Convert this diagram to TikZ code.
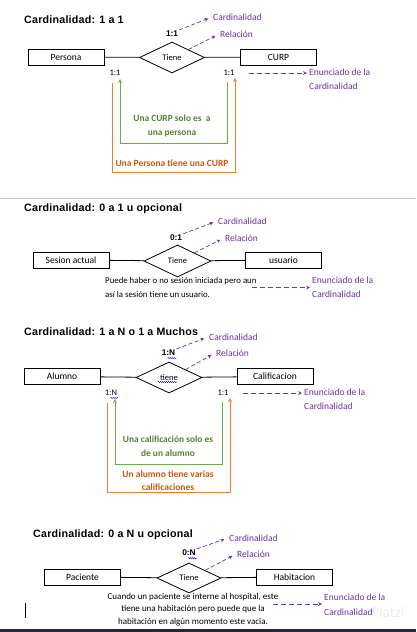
\documentclass[tikz,border=0pt]{standalone}
\usepackage{fontspec}
\setmainfont{Carlito}
\newfontfamily\arialf{Liberation Sans}
\newfontfamily\arialt{Liberation Sans}[LetterSpace=2]
\usepackage{tikz}
\usetikzlibrary{shapes.geometric,decorations.pathmorphing}
\definecolor{lila}{HTML}{7030A0}
\definecolor{verde}{HTML}{70AD47}
\definecolor{verdeosc}{HTML}{548235}
\definecolor{naranja}{HTML}{ED7D31}
\definecolor{naranjaosc}{HTML}{C55A11}
\definecolor{barra}{HTML}{1F2A36}

\begin{document}
\begin{tikzpicture}
  [x=1pt,y=-1pt,every node/.style={inner sep=1pt},
   ent/.style={draw,line width=0.8pt,minimum width=76pt,minimum height=16pt,inner sep=0pt,font=\fontsize{9.5}{10}\selectfont},
   rel/.style={draw,diamond,line width=0.8pt,minimum width=65pt,minimum height=31pt,inner sep=0pt,font=\fontsize{8.5}{9}\selectfont},
   linea/.style={line width=0.8pt},
   ttl/.style={anchor=west,font=\arialt\bfseries\fontsize{10.7}{12}\selectfont},
   crd/.style={font=\arialf\bfseries\fontsize{8.3}{9}\selectfont},
   lbl/.style={font=\fontsize{8.5}{9}\selectfont},
   desc/.style={font=\fontsize{8.8}{14}\selectfont},
   nota/.style={anchor=west,text=lila,align=left,font=\fontsize{9.5}{14}\selectfont},
   pflecha/.style={draw=lila,line width=0.7pt,dash pattern=on 4pt off 2.5pt,-stealth,shorten >=4pt},
   gflecha/.style={draw=verde,line width=0.8pt,-stealth,shorten <=5pt,shorten >=2pt},
   oflecha/.style={draw=naranja,line width=0.8pt,-stealth,shorten <=6pt,shorten >=1pt},
   gtxt/.style={text=verdeosc,align=center,font=\bfseries\fontsize{9.4}{14}\selectfont},
   otxt/.style={text=naranjaosc,align=center,font=\bfseries\fontsize{9.5}{13}\selectfont},
   subr/.style={draw=blue,line width=0.4pt,decorate,decoration={snake,amplitude=0.6pt,segment length=2pt}}]

  \useasboundingbox (0,0) rectangle (416,632);

  % 1 a 1
  \node[ttl] (t1) at (23,19.5) {Cardinalidad: 1 a 1};
  \node[ent] (e1a) at (66,57) {Persona};
  \node[rel] (r1) at (172,57.5) {Tiene};
  \node[ent] (e1b) at (278.5,57) {CURP};
  \draw[linea] (e1a) -- (r1) -- (e1b);
  \node[crd] (c1) at (172,34) {1:1};
  \node[nota] (k1) at (212,17) {Cardinalidad};
  \node[nota] (q1) at (219,34) {Relación};
  \draw[pflecha] (c1.north east) -- (k1.west);
  \draw[pflecha] (r1.north east) -- (q1.west);
  \node[lbl] (n1a) at (115,73) {1:1};
  \node[lbl] (n1b) at (229,73) {1:1};
  \node[nota] (s1) at (308,79) {Enunciado de la\\Cardinalidad};
  \draw[pflecha,dash pattern=on 5pt off 3pt,shorten <=13pt,shorten >=1pt] (n1b.east) -- (n1b.east -| s1.west);
  \draw[gflecha] ([xshift=-2pt]n1b.south) -- ++(0,66) -| ([xshift=5pt]n1a.south);
  \node[gtxt] (g1) at (172,126) {Una CURP solo es\ \ a\\una persona};
  \draw[oflecha] ([xshift=-3pt]n1a.south) -- ++(0,95) -| ([xshift=6pt]n1b.south);
  \node[otxt] (o1) at (172,163) {Una Persona tiene una CURP};

  \draw[gray!40,line width=0.8pt] (0,198) -- (416,198);

  % 0 a 1
  \node[ttl] (t2) at (23,209) {Cardinalidad: 0 a 1 u opcional};
  \node[ent] (e2a) at (71,260) {Sesion actual};
  \node[rel,minimum width=67pt,minimum height=32pt] (r2) at (177.5,261) {Tiene};
  \node[ent] (e2b) at (283.5,260) {usuario};
  \draw[linea] (e2a) -- (r2) -- (e2b);
  \node[crd] (c2) at (176,238) {0:1};
  \node[nota] (k2) at (217,221) {Cardinalidad};
  \node[nota] (q2) at (224,238) {Relación};
  \draw[pflecha] (c2.north east) -- (k2.west);
  \draw[pflecha] (r2.north east) -- (q2.west);
  \node[desc,anchor=west,align=left] (d2) at (104,287) {Puede haber o no sesión iniciada pero aun\\así la sesión tiene un usuario.};
  \node[nota] (s2) at (311,287.5) {Enunciado de la\\Cardinalidad};
  \draw[pflecha,dash pattern=on 5pt off 3pt,shorten <=-6pt,shorten >=1pt] ([yshift=-0.5pt]d2.east) -- ([yshift=-0.5pt]d2.east -| s2.west);

  % 1 a N
  \node[ttl] (t3) at (23,332) {Cardinalidad: 1 a N o 1 a Muchos};
  \node[ent] (e3a) at (62,376.5) {Alumno};
  \node[rel,minimum width=66pt] (r3) at (169,377.5) {tiene};
  \node[ent] (e3b) at (275,376.5) {Calificacion};
  \draw[linea] (e3a) -- (r3) -- (e3b);
  \node[crd] (c3) at (168.5,353) {1:N};
  \node[nota] (k3) at (208,337) {Cardinalidad};
  \node[nota] (q3) at (215,353) {Relación};
  \draw[pflecha] (c3.north east) -- (k3.west);
  \draw[pflecha] (r3.north east) -- (q3.west);
  \node[lbl] (n3a) at (111,393) {1:N};
  \node[lbl] (n3b) at (223,393) {1:1};
  \node[nota] (s3) at (303,399) {Enunciado de la\\Cardinalidad};
  \draw[pflecha,dash pattern=on 5pt off 3pt,shorten <=13pt,shorten >=1pt] (n3b.east) -- (n3b.east -| s3.west);
  \draw[gflecha] ([xshift=-1pt]n3b.south) -- ++(0,67) -| ([xshift=4pt]n3a.south);
  \node[gtxt] (g3) at (168,446) {Una calificación solo es\\de un alumno};
  \draw[oflecha] ([xshift=-4pt]n3a.south) -- ++(0,95) -| ([xshift=7pt]n3b.south);
  \node[otxt] (o3) at (168,480.5) {Un alumno tiene varias\\calificaciones};
  \draw[subr] ([xshift=-1pt,yshift=-1pt]c3.south) -- ([yshift=-1pt]c3.south east);
  \draw[subr] ([xshift=-0.5pt,yshift=-1pt]n3a.south) -- ([yshift=-1pt]n3a.south east);
  \draw[subr] ([xshift=-11pt,yshift=-4.5pt]r3.center) -- ([xshift=8pt,yshift=-4.5pt]r3.center);

  % 0 a N
  \node[ttl] (t4) at (32,535) {Cardinalidad: 0 a N u opcional};
  \node[ent] (e4a) at (82.5,577) {Paciente};
  \node[rel,minimum width=64pt,minimum height=30pt] (r4) at (189,578) {Tiene};
  \node[ent] (e4b) at (294.5,577) {Habitacion};
  \draw[linea] (e4a) -- (r4) -- (e4b);
  \node[crd] (c4) at (189,553) {0:N};
  \node[nota] (k4) at (228,538) {Cardinalidad};
  \node[nota] (q4) at (236,554) {Relación};
  \draw[pflecha] (c4.north east) -- (k4.west);
  \draw[pflecha] (r4.north east) -- (q4.west);
  \draw[subr] ([xshift=-1pt,yshift=-1pt]c4.south) -- ([yshift=-1pt]c4.south east);
  \node[desc,align=center,font=\fontsize{9}{12.5}\selectfont] (d4) at (193,609.5) {Cuando un paciente se interne al hospital, este\\tiene una habitación pero puede que la\\habitación en algún momento este vacia.};
  \coordinate (a4) at (273,604);
  \node[nota,font=\fontsize{9.5}{15}\selectfont] (s4) at (323,604.5) {Enunciado de la\\Cardinalidad};
  \draw[pflecha,dash pattern=on 5pt off 3pt,shorten >=1pt] (a4) -- (a4 -| s4.west);

  \draw[line width=0.9pt] (25,603) -- (25,618);
  \node[text=gray!15,font=\fontsize{15}{15}\selectfont] (w) at (388,612) {Platzi};
  \fill[barra] (0,629) rectangle (416,632);
\end{tikzpicture}
\end{document}
